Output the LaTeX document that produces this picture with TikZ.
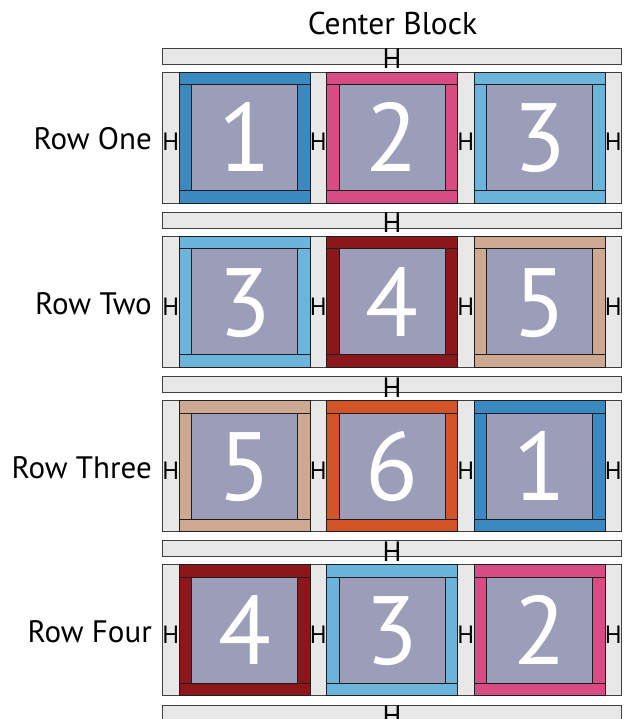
\documentclass[tikz,border=0pt]{standalone}
\usepackage{fontspec}
\setmainfont{PT Sans}
\definecolor{barfill}{HTML}{E8E8E8}
\definecolor{inner}{HTML}{9C9EB9}
\definecolor{cblue}{HTML}{3A89C0}
\definecolor{cpink}{HTML}{D64D83}
\definecolor{clblue}{HTML}{6BB4DB}
\definecolor{cdred}{HTML}{8B171B}
\definecolor{ctan}{HTML}{CEA991}
\definecolor{corange}{HTML}{D35527}
\definecolor{olc}{HTML}{1E1E1E}
\newcommand\qblock[5]{%
  \fill[#3] (#1,#2) rectangle ++(131,131);
  \draw[ol] (#1,#2) rectangle ++(131,131);
  \draw[ol] (#1,#2+12.5) -- ++(131,0);
  \draw[ol] (#1,#2+118.5) -- ++(131,0);
  \draw[ol,fill=inner] (#1+12.5,#2+12.5) rectangle ++(106,106);
  \node[digit] (#5) at (#1+65.5,#2+100) {#4};
}
\begin{document}
\begin{tikzpicture}[x=1pt,y=-1pt,
  ol/.style={draw=olc,line width=0.9pt},
  barbox/.style={draw=olc!85,line width=0.9pt,fill=barfill},
  digit/.style={anchor=base,text=white,font=\fontsize{97}{97}\selectfont,inner sep=0pt},
  hlab/.style={anchor=base,font=\fontsize{25}{25}\selectfont,inner sep=0pt,text=black},
  bhlab/.style={anchor=base,font=\fontsize{28}{28}\selectfont,inner sep=0pt,text=black},
  rowlab/.style={anchor=base east,font=\fontsize{31}{31}\selectfont,inner sep=0pt,text=black}]
\useasboundingbox (0,0) rectangle (631,719);
\node[anchor=base,font=\fontsize{31.5}{31.5}\selectfont,inner sep=0pt] (title) at (392.5,35) {Center Block};
% horizontal bars
\foreach \i in {0,...,4}{
  \pgfmathsetmacro\yb{48+164.3*\i}
  \draw[barbox] (162.5,\yb) rectangle ++(459,16);
  \node[bhlab] (bh\i) at (392,\yb+20.5) {H};
}
% rows
\foreach \r/\lab/\ca/\na/\cb/\nb/\cc/\nc in {0/One/cblue/1/cpink/2/clblue/3,1/Two/clblue/3/cdred/4/ctan/5,2/Three/ctan/5/corange/6/cblue/1,3/Four/cdred/4/clblue/3/cpink/2}{
  \pgfmathsetmacro\yt{72+164.3*\r}
  \node[rowlab] (lab\r) at (152,\yt+78) {Row \lab};
  \foreach \j in {0,...,3}{
    \pgfmathsetmacro\xs{162.5+147.5*\j}
    \draw[barbox] (\xs,\yt) rectangle ++(16.5,131);
    \node[hlab] (sh\r\j) at (\xs+8.25,\yt+79) {H};
  }
  \qblock{179}{\yt}{\ca}{\na}{d\r a}
  \qblock{326.5}{\yt}{\cb}{\nb}{d\r b}
  \qblock{474}{\yt}{\cc}{\nc}{d\r c}
}
\end{tikzpicture}
\end{document}
